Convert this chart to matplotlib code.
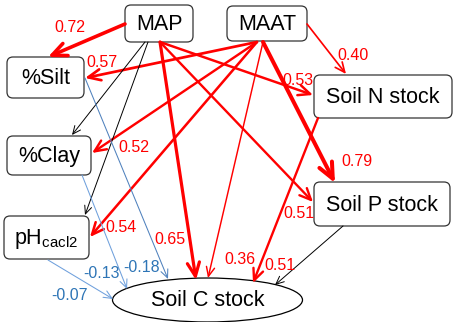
import matplotlib
matplotlib.use('Agg')
import matplotlib.pyplot as plt
from matplotlib.patches import FancyBboxPatch, Ellipse, FancyArrowPatch, ArrowStyle

plt.rcParams['font.family'] = ['Liberation Sans', 'DejaVu Sans']
plt.rcParams['mathtext.fontset'] = 'custom'
plt.rcParams['mathtext.rm'] = 'Liberation Sans'

# path model: variables and standardised coefficients (None = not significant)
boxes = ['MAP', 'MAAT', '%Silt', '%Clay', r'pH$_{\mathrm{cacl2}}$', 'Soil N stock', 'Soil P stock']
target = 'Soil C stock'

edge_src = ['MAP', 'MAAT', 'MAAT', 'MAAT', 'MAAT', 'MAAT', 'MAAT', 'MAP', 'MAP',
            'MAP', 'MAP', 'MAP', 'SoilN', 'SoilP', 'Silt', 'Clay', 'pH']
edge_dst = ['Silt', 'Silt', 'Clay', 'pH', 'SoilC', 'SoilN', 'SoilP', 'Clay', 'pH',
            'SoilC', 'SoilN', 'SoilP', 'SoilC', 'SoilC', 'SoilC', 'SoilC', 'SoilC']
coefs = [0.72, 0.57, 0.52, 0.54, 0.36, 0.40, 0.79, None, None,
         0.65, 0.53, 0.51, 0.51, None, -0.18, -0.13, -0.07]

# layout (pixel units, y pointing down)
box_x0 = [125, 227, 7, 7, 4, 314, 314]
box_y0 = [5, 6, 57, 136, 216, 75, 182]
box_x1 = [193, 307, 84, 91, 89, 452, 450]
box_y1 = [42, 41, 98, 175, 259, 118, 226]
ell_c = (207.5, 300)
ell_w, ell_h = 190, 44

p_start = [(125, 24), (257, 42), (257, 42), (257, 42), (263, 42), (307, 24), (263, 42),
           (145, 42), (148, 42), (160, 42), (160, 42), (160, 42), (318, 118),
           (343, 226), (85, 78), (82, 175), (48, 260)]
p_end = [(48, 57), (85, 78), (92, 153), (90, 237), (208, 278), (346, 74), (335, 183),
         (72, 135), (85, 215), (196, 280), (313, 95), (313, 202), (253, 283),
         (275, 285), (168, 279), (127, 289), (113, 299)]
lab_xy = [(70, 27), (102, 62), (134, 147), (121, 227), (240, 259), (353, 55), (357, 161),
          None, None, (170, 239), (298, 80), (299, 213), (280, 266),
          None, (142, 267), (102, 274), (70, 296)]

W, H = 453, 322
fig = plt.figure(figsize=(W / 100, H / 100), dpi=100)
ax = fig.add_axes([0, 0, 1, 1])
ax.set_xlim(0, W)
ax.set_ylim(H, 0)
ax.axis('off')

for name, x0, y0, x1, y1 in zip(boxes, box_x0, box_y0, box_x1, box_y1):
    ax.add_patch(FancyBboxPatch((x0, y0), x1 - x0, y1 - y0,
                                boxstyle='round,pad=0,rounding_size=6',
                                fc='white', ec='#333333', lw=0.9, zorder=3))
    ax.text((x0 + x1) / 2, (y0 + y1) / 2 + 1, name, ha='center', va='center',
            fontsize=15.5, zorder=4)

ax.add_patch(Ellipse(ell_c, ell_w, ell_h, fc='white', ec='black', lw=0.9, zorder=3))
ax.text(ell_c[0], ell_c[1] + 1, target, ha='center', va='center', fontsize=15.5, zorder=4)

for c, a, b, lp in zip(coefs, p_start, p_end, lab_xy):
    if c is None:
        col, lw = 'black', 0.7
    elif c < 0:
        col = '#4F81BD' if c < -0.15 else '#6FA0DC'
        lw = 0.75
    else:
        col = 'red'
        lw = 4.3 * c - 0.5
    hl = 4 + 2.5 * lw
    arr = FancyArrowPatch(a, b, arrowstyle=ArrowStyle('->', head_length=hl, head_width=0.45 * hl),
                          mutation_scale=1, shrinkA=0, shrinkB=0, color=col, lw=lw, zorder=5)
    ax.add_patch(arr)
    if c is not None:
        tcol = 'red' if c > 0 else '#2E75B6'
        ax.text(lp[0], lp[1], '%.2f' % c, ha='center', va='center', fontsize=11.5,
                color=tcol, zorder=6)

fig.savefig('out.png', dpi=100)
